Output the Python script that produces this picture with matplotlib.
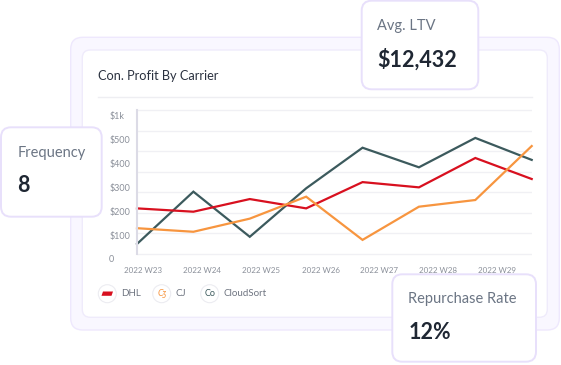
import matplotlib
matplotlib.use("Agg")
import matplotlib.pyplot as plt
from matplotlib.patches import FancyBboxPatch, Circle, Polygon

# ---------------- data ----------------
weeks = ["2022 W23", "2022 W24", "2022 W25", "2022 W26", "2022 W27", "2022 W28", "2022 W29"]
points = list(range(8))
cloudsort = [63, 282, 93, 296, 466, 384, 507, 415]
dhl = [212, 198, 251, 212, 322, 300, 423, 335]
cj = [129, 114, 169, 261, 80, 219, 247, 473]
ytick_vals = [0, 100, 200, 300, 400, 500, 600]
ytick_labels = ["0", "$100", "$200", "$300", "$400", "$500", "$1k"]
grid_vals = [22, 108, 194, 280, 366, 452, 538, 624]
xtick_pos = [0.11, 1.16, 2.2, 3.26, 4.3, 5.34, 6.38]
cards = [("Frequency", "8"), ("Avg. LTV", "$12,432"), ("Repurchase Rate", "12%")]
legend_names = ["DHL", "CJ", "CloudSort"]

C_DARK = "#3c5a5d"
C_RED = "#d8101f"
C_ORANGE = "#f7953f"
FONT = ["Lato", "DejaVu Sans"]
plt.rcParams["font.family"] = FONT

W, H = 561, 365
fig = plt.figure(figsize=(W / 100, H / 100), dpi=100)
fig.patch.set_facecolor("white")

def pix_axes(z):
    a = fig.add_axes([0, 0, 1, 1], zorder=z)
    a.set_xlim(0, W)
    a.set_ylim(H, 0)
    a.axis("off")
    a.patch.set_alpha(0)
    return a

bg = pix_axes(0)
fg = pix_axes(5)

def rbox(ax, x0, y0, x1, y1, r, fc, ec, lw):
    p = FancyBboxPatch((x0, y0), x1 - x0, y1 - y0,
                       boxstyle=f"round,pad=0,rounding_size={r}",
                       fc=fc, ec=ec, lw=lw)
    ax.add_patch(p)

# outer panel and inner card
rbox(bg, 70.7, 37.3, 559.3, 330, 12, "#f9f7ff", "#eee8fd", 1.0)
rbox(bg, 82.3, 50, 547.3, 317.3, 8, "white", "#efebfb", 1.0)

bg.text(98.3, 75.7, "Con. Profit By Carrier", fontsize=9.2, color="#2b3240",
        ha="left", va="center")
bg.plot([98, 532], [96.7, 96.7], color="#eeeef2", lw=1)

# ---------------- chart ----------------
ppu = 0.2388
y0px = 259.0
ylo, yhi = -5, 630
bot_px = y0px - ylo * ppu
top_px = y0px - yhi * ppu
left_px, right_px = 137.0, 531.7
ax = fig.add_axes([left_px / W, (H - bot_px) / H, (right_px - left_px) / W,
                   (bot_px - top_px) / H], zorder=2)
ax.patch.set_alpha(0)
ax.set_xlim(0, 7)
ax.set_ylim(ylo, yhi)

ax.set_yticks(ytick_vals)
ax.set_yticklabels(ytick_labels)
ax.set_yticks(grid_vals, minor=True)
ax.yaxis.grid(True, which="minor", color="#f0f0f4", lw=1)
ax.yaxis.grid(False, which="major")
ax.tick_params(axis="y", which="both", length=0, pad=20, labelsize=6.5,
               labelcolor="#8b909a")
for t in ax.get_yticklabels():
    t.set_horizontalalignment("left")

ax.set_xticks(xtick_pos)
ax.set_xticklabels(weeks)
ax.tick_params(axis="x", length=0, pad=5, labelsize=5.8, labelcolor="#8b909a")

for s in ["top", "right", "bottom"]:
    ax.spines[s].set_visible(False)
ax.spines["left"].set_bounds(grid_vals[0], grid_vals[-1])
ax.spines["left"].set_color("#dcdbe6")
ax.spines["left"].set_linewidth(1.5)

ax.plot(points, cloudsort, color=C_DARK, lw=1.6, solid_joinstyle="miter", clip_on=False)
ax.plot(points, dhl, color=C_RED, lw=1.6, solid_joinstyle="miter", clip_on=False)
ax.plot(points, cj, color=C_ORANGE, lw=1.6, solid_joinstyle="miter", clip_on=False)

# ---------------- legend ----------------
leg_y = 293.7
icon_x = [107.3, 161.7, 209.7]
text_x = [120.7, 175.7, 223.3]
for cx, tx, name in zip(icon_x, text_x, legend_names):
    bg.add_patch(Circle((cx, leg_y), 9, fc="white", ec="#ececf1", lw=0.8))
    bg.text(tx, leg_y, name, fontsize=7, color="#6e7480", ha="left", va="center")
# DHL icon
bg.add_patch(Polygon([[101.5, 295.8], [103, 291.5], [113, 291.5], [111.5, 295.8]],
                     closed=True, fc=C_RED, ec="none"))
bg.text(icon_x[1], leg_y, "Cʒ", fontsize=6.5, color=C_ORANGE, style="italic",
        ha="center", va="center")
bg.text(icon_x[2], leg_y, "Co", fontsize=6.5, color=C_DARK,
        ha="center", va="center")

# ---------------- cards ----------------
card_boxes = [(1, 127.3, 101.7, 216.7), (361.7, 0.7, 478.3, 89.3), (392.3, 274.3, 536, 361.7)]
label_pos = [(17.3, 153.3), (377.3, 26), (408.3, 299)]
value_pos = [(17.3, 185), (377.3, 59.3), (408.3, 332.3)]
for (lab, val), box, lp, vp in zip(cards, card_boxes, label_pos, value_pos):
    rbox(fg, *box, 10, "white", "#e8e0fb", 1.4)
    fg.text(lp[0], lp[1], lab, fontsize=10.5, color="#6b7584", ha="left", va="center")
    fg.text(vp[0], vp[1], val, fontsize=15.5, color="#1f2733", fontweight="bold",
            ha="left", va="center")

fig.savefig("out.png", dpi=100, facecolor="white")
